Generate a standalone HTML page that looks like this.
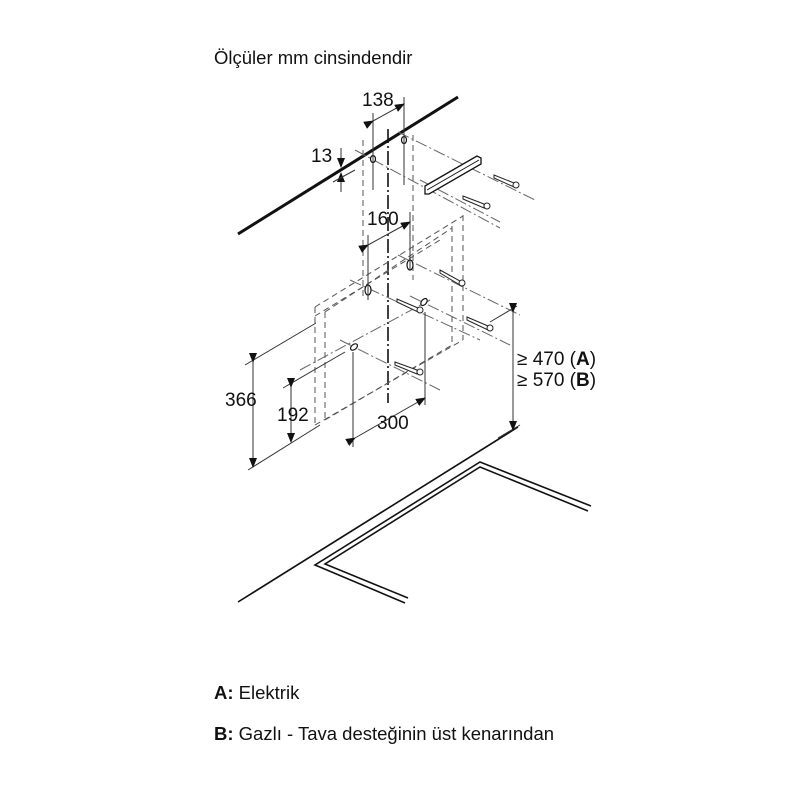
<!DOCTYPE html>
<html><head><meta charset="utf-8"><style>
html,body{margin:0;padding:0;background:#fff;}
svg{display:block;}
text{font-family:"Liberation Sans",Arial,sans-serif;fill:#111;}
</style></head><body>
<svg width="800" height="800" viewBox="0 0 800 800" xmlns="http://www.w3.org/2000/svg">
<defs>
<marker id="ar" markerWidth="10" markerHeight="8" refX="9" refY="4" orient="auto" markerUnits="userSpaceOnUse">
<path d="M0,0 L10,4 L0,8 Z" fill="#111"/></marker>
</defs>
<text x="214" y="64" font-size="18.5">Ölçüler mm cinsindendir</text>

<!-- ceiling -->
<line x1="238" y1="234" x2="458" y2="97" stroke="#111" stroke-width="3"/>

<!-- hob -->
<line x1="238" y1="602" x2="518" y2="427" stroke="#111" stroke-width="1.6"/>
<polyline points="405,603 315,565 480,462 591,506" fill="none" stroke="#111" stroke-width="1.6"/>
<polyline points="408,598 325,564 480,467 588,511" fill="none" stroke="#111" stroke-width="1.6"/>

<!-- center dash-dot line -->
<line x1="388" y1="129" x2="388" y2="403" stroke="#111" stroke-width="1.6" stroke-dasharray="14,3,2,3"/>

<g stroke="#555" stroke-width="1" fill="none" stroke-dasharray="6,4">
<line x1="363" y1="140" x2="363" y2="300"/>
<line x1="413" y1="135" x2="413" y2="280"/>
<line x1="463" y1="215" x2="463" y2="340"/>
<line x1="452" y1="226" x2="452" y2="345"/>
<line x1="315" y1="307" x2="315" y2="425"/>
<line x1="325" y1="312" x2="325" y2="420"/>
<line x1="315" y1="307" x2="463" y2="216"/>
<line x1="325" y1="312" x2="452" y2="228"/>
<line x1="315" y1="316" x2="440" y2="240"/>
<line x1="315" y1="425" x2="463" y2="340"/>
<line x1="325" y1="420" x2="452" y2="345"/>
</g>
<g stroke="#666" stroke-width="1" fill="none" stroke-dasharray="12,3,2,3">
<line x1="355" y1="150" x2="500" y2="228"/>
<line x1="398" y1="132" x2="535" y2="200"/>
<line x1="350" y1="280" x2="480" y2="340"/>
<line x1="398" y1="255" x2="520" y2="315"/>
<line x1="410" y1="296" x2="510" y2="345"/>
<line x1="340" y1="340" x2="440" y2="390"/>
<line x1="300" y1="370" x2="430" y2="300"/>
<line x1="420" y1="180" x2="500" y2="222"/>
</g>

<g stroke="#111" stroke-width="1.2" fill="#fff">
<ellipse cx="373" cy="159" rx="2.5" ry="3.5"/>
<ellipse cx="404" cy="140" rx="2.5" ry="3.5"/>
<ellipse cx="410" cy="265" rx="3" ry="5"/>
<ellipse cx="368" cy="290" rx="3" ry="5"/>
<ellipse cx="424" cy="302" rx="2.5" ry="4" transform="rotate(40 424 302)"/>
<ellipse cx="354" cy="347" rx="2.5" ry="4" transform="rotate(50 354 347)"/>
</g>

<polygon points="425,186 477,156 481,158 481,164 429,194 425,194" fill="#fff" stroke="#111" stroke-width="1.3"/>
<line x1="427" y1="190" x2="479" y2="160" stroke="#111" stroke-width="1"/>

<g stroke="#222" stroke-width="1" fill="#fff">
<polygon points="494,175 514,183 514,187 494,178"/><circle cx="516" cy="185" r="3"/>
<polygon points="463,196 484,204 484,208 463,199"/><circle cx="487" cy="206" r="3"/>
<polygon points="440,270 460,281 460,285 440,273"/><circle cx="462" cy="283" r="3"/>
<polygon points="397,299 418,308 418,312 397,302"/><circle cx="420" cy="310" r="3"/>
<polygon points="467,317 488,326 488,330 467,320"/><circle cx="490" cy="328" r="3"/>
<polygon points="395,362 417,370 417,374 395,365"/><circle cx="420" cy="372" r="3"/>
</g>

<g stroke="#333" stroke-width="1" fill="none">
<line x1="373" y1="113" x2="373" y2="190"/>
<line x1="404" y1="97" x2="404" y2="185"/>
<line x1="373" y1="121" x2="404" y2="104" marker-start="url(#ar)" marker-end="url(#ar)"/>
<line x1="341" y1="148" x2="341" y2="167" marker-end="url(#ar)"/>
<line x1="341" y1="192" x2="341" y2="173" marker-end="url(#ar)"/>
<line x1="333" y1="182" x2="355" y2="170"/>
<line x1="368" y1="235" x2="368" y2="300"/>
<line x1="410" y1="212" x2="410" y2="270"/>
<line x1="368" y1="245" x2="410" y2="222" marker-start="url(#ar)" marker-end="url(#ar)"/>
<line x1="245" y1="365" x2="316" y2="323"/>
<line x1="248" y1="470" x2="320" y2="425"/>
<line x1="253" y1="362" x2="253" y2="467" marker-start="url(#ar)" marker-end="url(#ar)"/>
<line x1="283" y1="388" x2="345" y2="352"/>
<line x1="291" y1="387" x2="291" y2="442" marker-start="url(#ar)" marker-end="url(#ar)"/>
<line x1="353" y1="352" x2="353" y2="447"/>
<line x1="425" y1="312" x2="425" y2="405"/>
<line x1="355" y1="438" x2="425" y2="398" marker-start="url(#ar)" marker-end="url(#ar)"/>
<line x1="490" y1="322" x2="517" y2="306"/>
<line x1="498" y1="438" x2="520" y2="425"/>
<line x1="513" y1="312" x2="513" y2="430" marker-start="url(#ar)" marker-end="url(#ar)"/>
</g>

<g font-size="19">
<text x="362" y="106">138</text>
<text x="311" y="162">13</text>
<text x="367" y="225">160</text>
<text x="225" y="406">366</text>
<text x="277" y="421">192</text>
<text x="377" y="429">300</text>
<text x="517" y="365">≥ 470 (<tspan font-weight="bold">A</tspan>)</text>
<text x="517" y="386">≥ 570 (<tspan font-weight="bold">B</tspan>)</text>
</g>
<g font-size="18.5">
<text x="214" y="699"><tspan font-weight="bold">A:</tspan> Elektrik</text>
<text x="214" y="740"><tspan font-weight="bold">B:</tspan> Gazlı - Tava desteğinin üst kenarından</text>
</g>
</svg>
</body></html>
